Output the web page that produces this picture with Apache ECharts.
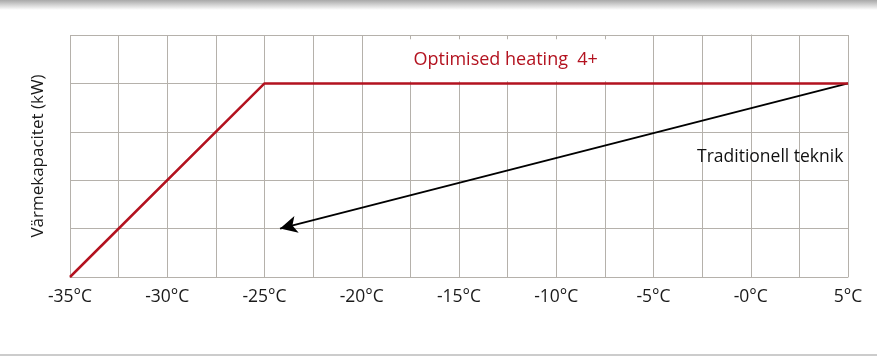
<!DOCTYPE html>
<html><head><meta charset="utf-8">
<script src="https://cdn.jsdelivr.net/npm/echarts@6/dist/echarts.min.js"></script>
<style>html,body{margin:0;padding:0;background:#fff}#c{width:877px;height:356px}</style>
</head><body><div id="c"></div>
<script>
const xMin = -35, xMax = 5, xStep = 2.5;
const yMin = 0, yMax = 5;
const optimisedTemps = [-35, -25, 5];
const optimisedPower = [0, 4, 4];
const traditionalFrom = [5, 4];
const traditionalTo = [-24.2, 1];
const optimisedLabel = 'Optimised heating  4+';
const traditionalLabel = 'Traditionell teknik';
const optimisedLabelAt = [-12.6, 4.48];
const traditionalLabelAt = [1, 2.48];
const yName = 'Värmekapacitet (kW)';

const gridColor = '#b5b1ab';
const red = '#b3121f';
const font = '"Open Sans", "Noto Sans", sans-serif';

const chart = echarts.init(document.getElementById('c'));
chart.setOption({
  animation: false,
  grid: {left: 70, right: 29, top: 35, bottom: 79},
  xAxis: {
    type: 'value', min: xMin, max: xMax, interval: xStep,
    axisLine: {show: true, lineStyle: {color: gridColor, width: 1}},
    axisTick: {show: false},
    splitLine: {show: true, lineStyle: {color: gridColor, width: 1}},
    axisLabel: {
      margin: 11, fontSize: 17.5, color: '#1a1a1a', fontFamily: font,
      formatter: v => (v % 5 === 0) ? ((v === 0 ? '-0' : String(v)) + '°C') : ''
    }
  },
  yAxis: {
    type: 'value', min: yMin, max: yMax, interval: 1,
    name: yName, nameLocation: 'middle', nameGap: 23,
    nameTextStyle: {fontSize: 17, color: '#1a1a1a', fontFamily: font},
    axisLine: {show: true, lineStyle: {color: gridColor, width: 1}},
    axisTick: {show: false},
    axisLabel: {show: false},
    splitLine: {show: true, lineStyle: {color: gridColor, width: 1}}
  },
  series: [
    {
      type: 'line', symbol: 'none', z: 5,
      data: optimisedTemps.map((t, i) => [t, optimisedPower[i]]),
      lineStyle: {color: red, width: 2.5},
      markPoint: {
        symbol: 'rect', symbolSize: 1, itemStyle: {color: 'rgba(0,0,0,0)'},
        data: [
          {coord: optimisedLabelAt, label: {show: true, position: 'inside', formatter: optimisedLabel,
            color: red, fontSize: 18, fontFamily: font, backgroundColor: '#fff', padding: [12, 50, 12, 50]}},
          {coord: traditionalLabelAt, label: {show: true, position: 'inside', formatter: traditionalLabel,
            color: '#111', fontSize: 17.5, fontFamily: font}}
        ]
      }
    },
    {
      type: 'line', data: [], z: 6,
      markLine: {
        silent: true, symbol: ['none', 'arrow'], symbolSize: [13, 17],
        lineStyle: {color: '#000', width: 2, type: 'solid'},
        label: {show: false},
        data: [[{coord: traditionalFrom}, {coord: traditionalTo}]]
      }
    }
  ],
  graphic: [
    {type: 'rect', left: 0, top: 0, shape: {width: 877, height: 10}, silent: true,
     style: {fill: new echarts.graphic.LinearGradient(0, 0, 0, 1, [{offset: 0, color: '#a8a8a8'}, {offset: 1, color: '#ffffff'}])}},
    {type: 'rect', left: 0, top: 354, shape: {width: 877, height: 2}, silent: true, style: {fill: '#cccccc'}}
  ]
});
</script></body></html>
